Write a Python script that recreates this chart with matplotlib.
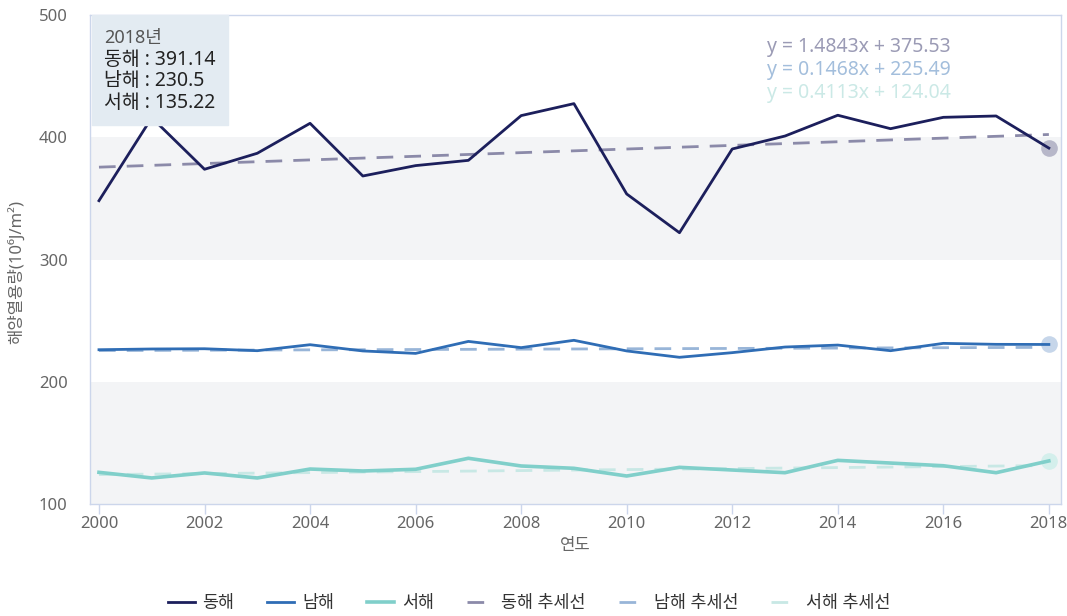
import matplotlib.pyplot as plt
from matplotlib.patches import Rectangle

plt.rcParams['font.family'] = ['Noto Sans', 'Noto Sans CJK KR', 'DejaVu Sans']

years = list(range(2000, 2019))
east = [348.1, 416.0, 373.8, 386.9, 411.4, 368.3, 376.8, 381.1, 417.7, 427.5,
        353.6, 321.9, 390.4, 401.0, 418.0, 407.0, 416.3, 417.4, 391.14]
south = [226.2, 226.8, 227.0, 225.4, 230.3, 225.2, 223.2, 233.0, 227.9, 233.9,
         225.2, 220.0, 223.8, 228.4, 230.0, 225.4, 231.4, 230.6, 230.5]
west = [125.9, 121.3, 125.4, 121.3, 128.6, 127.0, 128.4, 137.4, 131.1, 129.2,
        122.9, 130.0, 127.8, 125.6, 135.7, 133.5, 131.3, 125.6, 135.22]

names = ['동해', '남해', '서해']
slopes = [1.4843, 0.1468, 0.4113]
intercepts = [375.53, 225.49, 124.04]

line_colors = ['#1c1f5c', '#2f6db5', '#80cfca']
trend_colors = ['#8b8aa9', '#98b5d8', '#c8e8e5']
eq_colors = ['#9b9bb5', '#a3bedc', '#cbe9e6']
halo_colors = ['#b7b7c9', '#c6d6ea', '#d4efec']
widths = [2.0, 2.0, 2.6]

W, H = 1067, 616
fig = plt.figure(figsize=(W / 100, H / 100), dpi=100)
ax = fig.add_axes([90 / W, 1 - 504 / H, (1061 - 90) / W, (504 - 15) / H])

# 배경 띠
ax.axhspan(100, 200, color='#f3f4f6', zorder=0, lw=0)
ax.axhspan(300, 400, color='#f3f4f6', zorder=0, lw=0)

series = [east, south, west]
handles_line = []
handles_trend = []
for i in range(3):
    trend = [slopes[i] * (y - 2000) + intercepts[i] for y in years]
    ht, = ax.plot(years, trend, color=trend_colors[i], lw=2, dashes=(6, 4),
                  zorder=2, label=names[i] + ' 추세선')
    hl, = ax.plot(years, series[i], color=line_colors[i], lw=widths[i],
                  zorder=3, label=names[i])
    ax.plot(years[-1], series[i][-1], 'o', ms=12, color=halo_colors[i],
            zorder=2.5, mec='none')
    handles_line.append(hl)
    handles_trend.append(ht)

ax.set_xlim(1999.83, 2018.23)
ax.set_ylim(100, 500)
ax.set_xticks(range(2000, 2019, 2))
ax.set_yticks([100, 200, 300, 400, 500])
ax.tick_params(axis='x', colors='#ccd6eb', length=7, width=1, labelcolor='#666666',
               labelsize=12, pad=2)
ax.tick_params(axis='y', length=0, labelcolor='#666666', labelsize=12, pad=16)
for s in ax.spines.values():
    s.set_color('#ccd6eb')
    s.set_linewidth(1)

ax.set_xlabel('연도', color='#666666', fontsize=12, labelpad=4)
fig.text(16 / W, 1 - 272 / H, '해양열용량(10⁶J/m²)', rotation=90, color='#666666',
         fontsize=12, ha='center', va='center')

# 추세식
for i in range(3):
    fig.text(767 / W, 1 - (47 + 23 * i) / H,
             f'y = {slopes[i]}x + {intercepts[i]}', color=eq_colors[i],
             fontsize=14, va='center', ha='left')

# 툴팁
fig.patches.append(Rectangle((92 / W, 1 - 125 / H), (228 - 92) / W, (125 - 15) / H,
                             transform=fig.transFigure, color='#e3ebf2', zorder=5))
fig.text(104 / W, 1 - 38 / H, '2018년', color='#555555', fontsize=13,
         va='center', zorder=6)
for i in range(3):
    fig.text(104 / W, 1 - (60 + 21.5 * i) / H, f'{names[i]} : {series[i][-1]}',
             color='#222222', fontsize=14, va='center', zorder=6)

fig.legend(handles_line + handles_trend, [h.get_label() for h in handles_line + handles_trend],
           loc='center', bbox_to_anchor=(529 / W, 1 - 603 / H), ncol=6, frameon=False,
           fontsize=12.5, handlelength=1.55, columnspacing=1.9, handletextpad=0.45,
           labelcolor='#333333')

fig.savefig('out.png', dpi=100)
